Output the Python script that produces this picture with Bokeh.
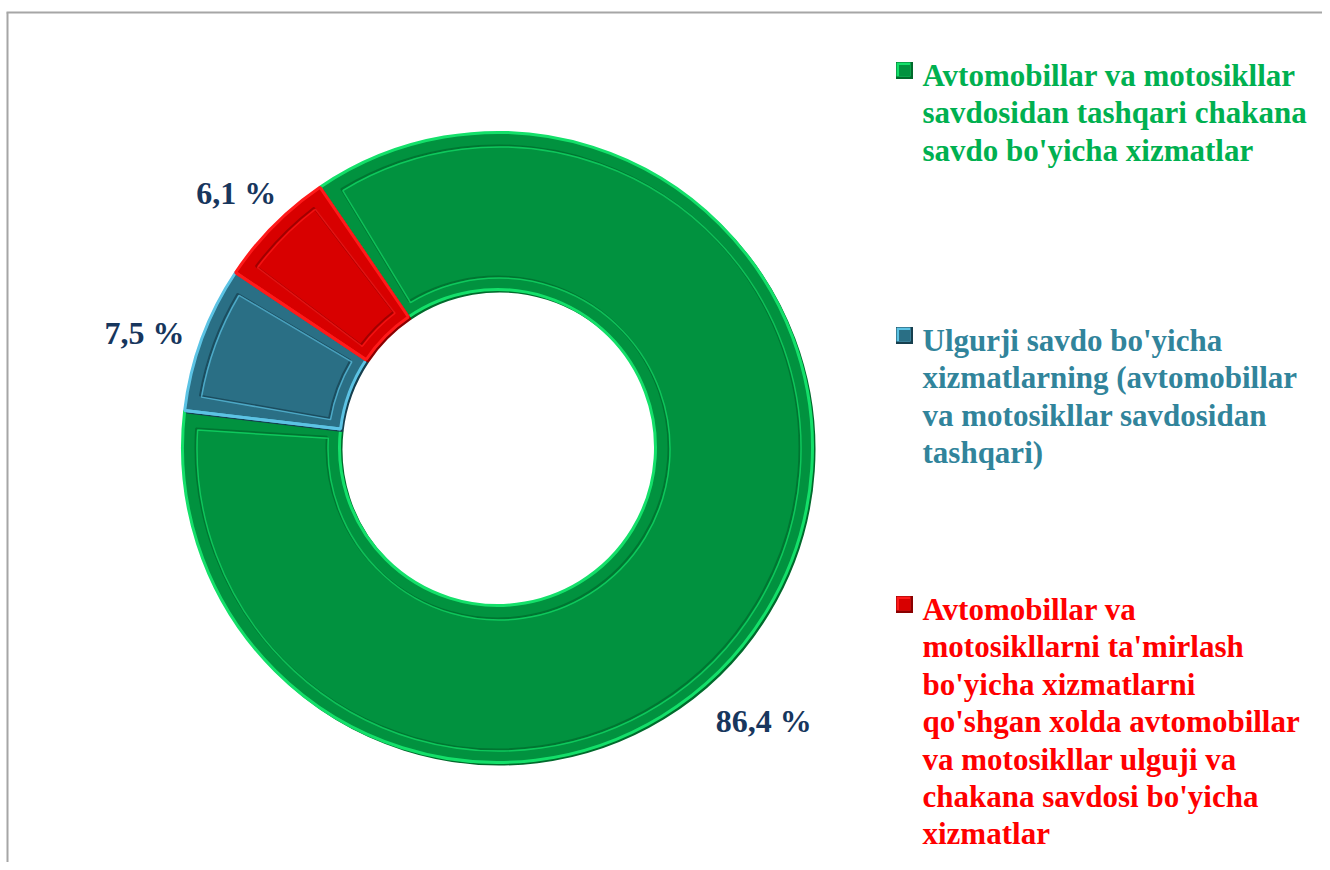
import math
from bokeh.plotting import figure
from bokeh.models import Range1d
from bokeh.core.properties import value
from bokeh.embed import file_html
from bokeh.resources import INLINE

# ---- data ----
categories = [
    "Avtomobillar va motosikllar savdosidan tashqari chakana savdo bo'yicha xizmatlar",
    "Ulgurji savdo bo'yicha xizmatlarning (avtomobillar va motosikllar savdosidan tashqari)",
    "Avtomobillar va motosikllarni ta'mirlash bo'yicha xizmatlarni qo'shgan xolda avtomobillar va motosikllar ulguji va chakana savdosi bo'yicha xizmatlar",
]
shares = [86.4, 7.5, 6.1]
value_labels = ["86,4 %", "7,5 %", "6,1 %"]
legend_lines = [
    ["Avtomobillar va motosikllar", "savdosidan tashqari chakana", "savdo bo'yicha xizmatlar"],
    ["Ulgurji savdo bo'yicha", "xizmatlarning (avtomobillar", "va motosikllar savdosidan", "tashqari)"],
    ["Avtomobillar va", "motosikllarni ta'mirlash", "bo'yicha xizmatlarni", "qo'shgan xolda avtomobillar",
     "va motosikllar ulguji va", "chakana savdosi bo'yicha", "xizmatlar"],
]

# ---- styles ----
fill_colors = ["#01923F", "#2A6F85", "#D80000"]
edge_colors = ["#14E06A", "#5CC3E4", "#FF1A1A"]
dark_colors = ["#016A2C", "#163F4E", "#8A0000"]
text_colors = ["#00B050", "#31849B", "#FF0000"]
label_color = "#17365D"
FONT = value("Liberation Serif")

W, H = 1322, 862
def X(px): return px
def Y(py): return H - py

p = figure(width=W, height=H, output_backend="svg", toolbar_location=None,
           x_range=Range1d(0, W), y_range=Range1d(0, H), min_border=0)
p.axis.visible = False
p.grid.visible = False
p.outline_line_color = None
p.background_fill_color = "white"
p.border_fill_color = "white"

# frame border (top and left visible)
p.segment(x0=[6, 7], y0=[Y(12), Y(12)], x1=[W, 7], y1=[Y(12), 0], line_color="#A6A6A6", line_width=2)

cx, cy = X(497), Y(447)
r_out, r_in = 315, 158
start = math.radians(124.3)
total = sum(shares)

angles = []
a = start
for s in shares:
    span = 2 * math.pi * s / total
    angles.append((a, a - span))
    a -= span

for i, (a0, a1) in enumerate(angles):
    p.annular_wedge(x=cx + 2, y=cy - 2, inner_radius=r_in, outer_radius=r_out,
                    start_angle=a0, end_angle=a1, direction="clock",
                    fill_color=dark_colors[i], line_color=dark_colors[i], line_width=2)
    p.annular_wedge(x=cx, y=cy, inner_radius=r_in, outer_radius=r_out,
                    start_angle=a0, end_angle=a1, direction="clock",
                    fill_color=fill_colors[i], line_color=edge_colors[i], line_width=3)
    inset = 13
    ri, ro = r_in + inset, r_out - inset
    da = inset / ((ri + ro) / 2)
    p.annular_wedge(x=cx, y=cy, inner_radius=ri, outer_radius=ro,
                    start_angle=a0 - da, end_angle=a1 + da, direction="clock",
                    fill_color=None, line_color=dark_colors[i], line_width=2, line_alpha=0.7)
    p.annular_wedge(x=cx + 1.5, y=cy - 1.5, inner_radius=ri, outer_radius=ro,
                    start_angle=a0 - da, end_angle=a1 + da, direction="clock",
                    fill_color=None, line_color=edge_colors[i], line_width=1.5, line_alpha=0.7)
    p.segment(x0=[cx + r_in * math.cos(a0)], y0=[cy + r_in * math.sin(a0)],
              x1=[cx + r_out * math.cos(a0)], y1=[cy + r_out * math.sin(a0)],
              line_color=edge_colors[i], line_width=3)

# value labels
label_place = [(-45.8, 382), (162.1, 371), (135.7, 365)]
for i in range(len(shares)):
    ang, rad = math.radians(label_place[i][0]), label_place[i][1]
    p.text(x=[cx + rad * math.cos(ang)], y=[cy + rad * math.sin(ang)], text=[value_labels[i]],
           text_font=FONT, text_font_style="bold", text_font_size="32px",
           text_color=label_color, text_align="center", text_baseline="middle")

# legend
legend_top = [75, 340, 609]
line_step = 37.4
for i, lines in enumerate(legend_lines):
    ty = legend_top[i]
    p.rect(x=[X(904)], y=[Y(ty - 5)], width=17, height=17, fill_color=dark_colors[i], line_color=None)
    p.rect(x=[X(903)], y=[Y(ty - 6)], width=14, height=14, fill_color=edge_colors[i], line_color=None)
    p.rect(x=[X(904)], y=[Y(ty - 5)], width=11, height=11, fill_color=fill_colors[i], line_color=None)
    ys = [Y(ty + k * line_step) for k in range(len(lines))]
    p.text(x=[X(922)] * len(lines), y=ys, text=lines, text_font=FONT, text_font_style="bold",
           text_font_size="31px", text_color=text_colors[i], text_align="left", text_baseline="middle")

open("out.html", "w").write(file_html(p, INLINE))
